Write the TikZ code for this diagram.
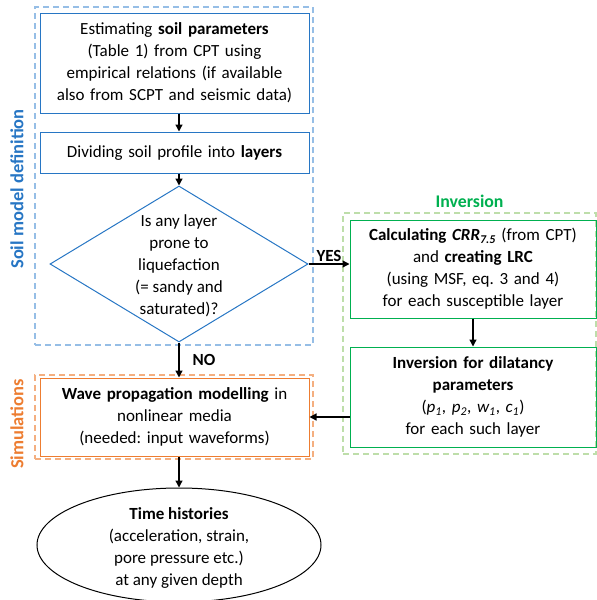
\documentclass[tikz,border=0pt]{standalone}
\usepackage{fontspec}
\setmainfont{Carlito}
\usetikzlibrary{positioning}
\usetikzlibrary{shapes.geometric}
\usetikzlibrary{arrows.meta}

\definecolor{soilblue}{RGB}{39,118,196}
\definecolor{soilframe}{RGB}{150,190,230}
\definecolor{invgreen}{RGB}{0,176,80}
\definecolor{invframe}{RGB}{190,222,170}
\definecolor{simorange}{RGB}{237,125,49}
\definecolor{simframe}{RGB}{244,175,128}

\begin{document}
\frenchspacing
\begin{tikzpicture}[x=1pt,y=-1pt,
  font=\fontsize{17}{22}\selectfont,
  every node/.style={align=center,inner sep=0pt},
  box/.style={draw,line width=1pt,minimum width=269pt,text width=264pt},
  greenbox/.style={draw=invgreen,line width=1pt,minimum width=246pt,text width=242pt},
  frame/.style={draw,line width=1.3pt,dash pattern=on 6pt off 4pt},
  grouplabel/.style={font=\fontsize{18.5}{22}\selectfont\bfseries},
  conn/.style={-{Triangle[length=7pt,width=7pt]},line width=1.3pt}]
\useasboundingbox (0,0) rectangle (597,600);

% groups
\node[frame,draw=soilframe,minimum width=278pt,minimum height=338pt] (soilgroup) at (174,176) {};
\node[frame,draw=simframe,minimum width=278pt,minimum height=84pt] (simgroup) at (174,417) {};
\node[frame,draw=invframe,minimum width=253pt,minimum height=241pt] (invgroup) at (469.5,333.5) {};

\node[grouplabel,rotate=90,text=soilblue] (soillabel) at (17,189) {Soil model definition};
\node[grouplabel,rotate=90,text=simorange] (simlabel) at (17,424) {Simulations};
\node[above=5pt of invgroup,text=invgreen,font=\fontsize{17.8}{22}\selectfont\bfseries] (invlabel) {Inversion};

% soil model
\node[box,draw=soilblue,minimum height=100pt] (est) at (174.5,63) {Estimating \textbf{soil parameters}\\(Table 1) from CPT using\\empirical relations (if available\\also from SCPT and seismic data)};
\node[box,draw=soilblue,minimum height=41pt] (div) at (174.5,152.5) {Dividing soil profile into \textbf{layers}};
\node[diamond,draw=soilblue,line width=1pt,minimum width=258pt,minimum height=156pt] (dia) at (179,264) {};
\node[yshift=-2pt] (diatext) at (dia) {Is any layer\\prone to\\liquefaction\\(= sandy and\\saturated)?};

% inversion
\node[greenbox,minimum height=98pt] (crr) at (473,269) {\textbf{Calculating \textit{CRR\textsubscript{7.5}}} (from CPT)\\and \textbf{creating LRC}\\(using MSF, eq. 3 and 4)\\for each susceptible layer};
\node[greenbox,minimum height=100pt] (dil) at (473,397) {\textbf{Inversion for dilatancy}\\\textbf{parameters}\\(\textit{p\textsubscript{1}}, \textit{p\textsubscript{2}}, \textit{w\textsubscript{1}}, \textit{c\textsubscript{1}})\\for each such layer};

% simulations
\node[box,draw=simorange,minimum height=78pt] (wave) at (174.5,417) {\textbf{Wave propagation modelling} in\\nonlinear media\\(needed: input waveforms)};
\node[ellipse,draw,line width=1pt,minimum width=284pt,minimum height=114pt] (hist) at (179,545) {};
\node[yshift=-3pt] (histtext) at (hist) {\textbf{Time histories}\\(acceleration, strain,\\pore pressure etc.)\\at any given depth};

% connectors
\draw[conn] (est.south -| dia.north) -- (div.north -| dia.north);
\draw[conn] (div.south -| dia.north) -- (dia.north);
\draw[conn] (dia.east) -- (dia.east -| crr.west) node[midway,above=2pt] (yes) {\textbf{YES}};
\draw[conn] (dia.south) -- (dia.south |- wave.north) node[midway,right=13pt] (no) {\textbf{NO}};
\draw[conn] (crr.south) -- (dil.north);
\draw[conn] (wave.east -| dil.west) -- (wave.east);
\draw[conn] (wave.south -| hist.north) -- (hist.north);
\end{tikzpicture}
\end{document}
